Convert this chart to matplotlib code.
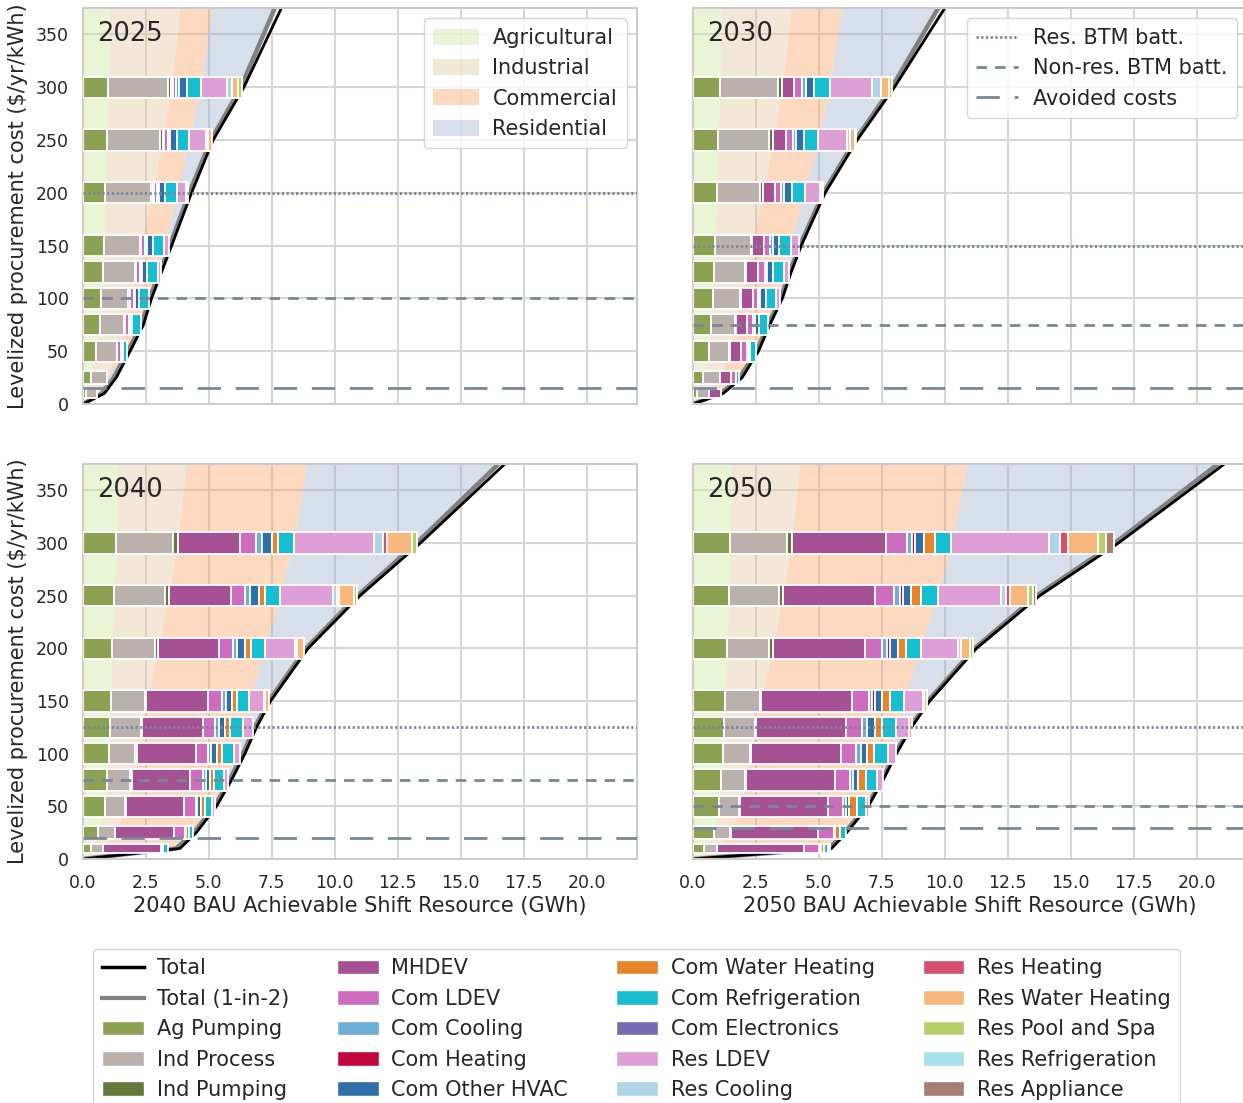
import numpy as np
import matplotlib
matplotlib.use("Agg")
import matplotlib.pyplot as plt
from matplotlib.patches import Patch
from matplotlib.lines import Line2D

# ---------------- data ----------------
categories = ["Ag Pumping", "Ind Process", "Ind Pumping", "MHDEV", "Com LDEV",
              "Com Cooling", "Com Heating", "Com Other HVAC", "Com Water Heating",
              "Com Refrigeration", "Com Electronics", "Res LDEV", "Res Cooling",
              "Res Heating", "Res Water Heating", "Res Pool and Spa",
              "Res Refrigeration", "Res Appliance"]
cat_colors = ["#8ca252", "#bab0ac", "#637939", "#a55194", "#ce6dbd",
              "#6baed6", "#c2073a", "#2f6fa7", "#e6842a",
              "#17becf", "#756bb1", "#de9ed6", "#aed4e8",
              "#d6506e", "#f7b77d", "#b5cf6b",
              "#a6e1ea", "#a87d72"]
sector_names = ["Agricultural", "Industrial", "Commercial", "Residential"]
sector_colors = ["#cae898", "#e3c59d", "#faa05f", "#9dafcd"]

years = ["2025", "2030", "2040", "2050"]
levels = [10, 25, 50, 75, 100, 125, 150, 200, 250, 300]
line_levels = [0, 10, 25, 50, 75, 100, 125, 150, 200, 250, 300, 375]

# segment widths (GWh), one row per price level, in category order
widths_2025 = [
    [0.12, 0.44],
    [0.33, 0.61],
    [0.53, 0.81, 0.02, 0, 0.15, 0.03, 0, 0.06, 0, 0.13],
    [0.66, 0.98, 0.04, 0, 0.15, 0.04, 0, 0.09, 0, 0.33],
    [0.70, 1.09, 0.08, 0, 0.15, 0.06, 0, 0.16, 0, 0.38],
    [0.79, 1.27, 0.04, 0, 0.18, 0.05, 0, 0.22, 0, 0.41, 0, 0.12],
    [0.83, 1.45, 0.03, 0, 0.15, 0.08, 0, 0.24, 0, 0.45, 0, 0.20],
    [0.86, 1.83, 0.09, 0.04, 0.13, 0.08, 0, 0.24, 0, 0.47, 0, 0.37, 0, 0, 0.06],
    [0.95, 2.09, 0.12, 0.04, 0.16, 0.09, 0, 0.28, 0, 0.49, 0, 0.67, 0.06, 0, 0.17],
    [0.99, 2.38, 0.14, 0.05, 0.14, 0.12, 0, 0.31, 0, 0.54, 0, 1.04, 0.20, 0, 0.23, 0.16],
]
widths_2030 = [
    [0.15, 0.50, 0, 0.45],
    [0.41, 0.65, 0, 0.44, 0.20, 0, 0, 0, 0, 0.12],
    [0.62, 0.82, 0.04, 0.41, 0.24, 0.08, 0, 0.07, 0, 0.22],
    [0.70, 0.98, 0.03, 0.42, 0.24, 0.08, 0, 0.16, 0, 0.36],
    [0.78, 1.08, 0.04, 0.48, 0.21, 0.07, 0, 0.25, 0, 0.40, 0, 0.16],
    [0.83, 1.24, 0.04, 0.48, 0.25, 0.09, 0, 0.24, 0, 0.46, 0, 0.19],
    [0.86, 1.46, 0.03, 0.46, 0.25, 0.13, 0, 0.24, 0, 0.45, 0, 0.33],
    [0.94, 1.73, 0.11, 0.48, 0.25, 0.11, 0, 0.32, 0, 0.49, 0, 0.63, 0.04, 0, 0.05],
    [0.98, 2.05, 0.16, 0.49, 0.29, 0.12, 0, 0.32, 0, 0.56, 0, 1.14, 0.13, 0, 0.19, 0.03],
    [1.07, 2.29, 0.19, 0.46, 0.33, 0.15, 0, 0.33, 0, 0.61, 0, 1.69, 0.33, 0, 0.33, 0.11],
]
widths_2040 = [
    [0.33, 0.48, 0, 2.29, 0.09, 0, 0, 0, 0, 0.20],
    [0.61, 0.65, 0.01, 2.33, 0.44, 0.05, 0, 0, 0.12, 0.17],
    [0.87, 0.81, 0.03, 2.30, 0.46, 0.07, 0, 0.13, 0.17, 0.30, 0, 0.11],
    [0.95, 0.93, 0.05, 2.33, 0.49, 0.12, 0, 0.17, 0.16, 0.40, 0, 0.17],
    [1.03, 1.04, 0.07, 2.35, 0.49, 0.11, 0, 0.24, 0.20, 0.46, 0, 0.24],
    [1.07, 1.22, 0.05, 2.42, 0.48, 0.15, 0, 0.24, 0.20, 0.52, 0, 0.40],
    [1.11, 1.36, 0.05, 2.43, 0.56, 0.15, 0, 0.25, 0.21, 0.49, 0, 0.58, 0.03, 0, 0.17],
    [1.14, 1.72, 0.12, 2.43, 0.54, 0.15, 0, 0.34, 0.25, 0.53, 0, 1.19, 0.07, 0, 0.30],
    [1.23, 2.04, 0.13, 2.47, 0.57, 0.20, 0, 0.34, 0.24, 0.60, 0, 2.10, 0.16, 0.09, 0.58, 0.13],
    [1.31, 2.25, 0.20, 2.49, 0.61, 0.24, 0, 0.40, 0.24, 0.62, 0, 3.20, 0.36, 0.17, 0.99, 0.20],
]
widths_2050 = [
    [0.45, 0.49, 0.01, 3.47, 0.58, 0.07, 0, 0, 0.13, 0.16, 0, 0.09],
    [0.82, 0.65, 0.03, 3.48, 0.60, 0.05, 0, 0, 0.20, 0.24],
    [1.03, 0.81, 0.03, 3.48, 0.60, 0.11, 0, 0.15, 0.30, 0.36, 0, 0.12],
    [1.11, 0.97, 0.03, 3.51, 0.62, 0.13, 0, 0.20, 0.29, 0.46, 0, 0.24],
    [1.19, 1.07, 0.04, 3.57, 0.60, 0.19, 0, 0.24, 0.30, 0.53, 0, 0.33],
    [1.23, 1.23, 0.05, 3.56, 0.66, 0.16, 0.03, 0.30, 0.29, 0.54, 0, 0.52, 0.01, 0, 0.11],
    [1.27, 1.39, 0.04, 3.62, 0.66, 0.12, 0.12, 0.30, 0.32, 0.54, 0, 0.75, 0.03, 0, 0.15],
    [1.35, 1.68, 0.15, 3.64, 0.70, 0.17, 0.12, 0.33, 0.33, 0.57, 0, 1.48, 0.13, 0, 0.34, 0.13],
    [1.43, 2.00, 0.13, 3.66, 0.78, 0.21, 0.13, 0.33, 0.37, 0.67, 0, 2.51, 0.21, 0.16, 0.70, 0.20, 0, 0.15],
    [1.47, 2.25, 0.20, 3.73, 0.83, 0.20, 0.15, 0.36, 0.41, 0.66, 0, 3.89, 0.41, 0.32, 1.22, 0.32, 0, 0.30],
]

# total supply curves (x at line_levels)
total_2025 = [0, 0.85, 1.32, 1.87, 2.40, 2.72, 3.12, 3.52, 4.31, 5.17, 6.39, 7.88]
total12_2025 = [0, 0.75, 1.22, 1.78, 2.32, 2.64, 3.05, 3.45, 4.22, 5.08, 6.27, 7.62]
total_2030 = [0, 1.20, 1.95, 2.60, 3.05, 3.55, 3.90, 4.30, 5.25, 6.52, 8.00, 10.00]
total12_2030 = [0, 1.10, 1.85, 2.52, 2.98, 3.48, 3.84, 4.24, 5.18, 6.44, 7.90, 9.74]
total_2040 = [0, 3.85, 4.50, 5.30, 5.90, 6.43, 6.89, 7.45, 8.94, 11.00, 13.40, 16.75]
total12_2040 = [0, 3.70, 4.40, 5.22, 5.82, 6.35, 6.82, 7.38, 8.85, 10.90, 13.25, 16.50]
total_2050 = [0, 5.50, 6.10, 6.96, 7.55, 8.08, 8.68, 9.40, 11.26, 13.77, 16.90, 21.10]
total12_2050 = [0, 5.40, 6.02, 6.90, 7.50, 8.02, 8.62, 9.33, 11.18, 13.65, 16.75, 20.85]

# sector boundaries at top of chart (375 $/yr/kWh): Ag, Ind, Com
area_top_2025 = [1.07, 3.85, 5.10]
area_top_2030 = [1.14, 3.90, 5.90]
area_top_2040 = [1.36, 4.10, 8.90]
area_top_2050 = [1.53, 4.25, 10.90]

res_btm = [200, 150, 125, 125]
nonres_btm = [100, 75, 75, 50]
avoided = [15, 15, 20, 29]

xlabels = ["", "", "2040 BAU Achievable Shift Resource (GWh)",
           "2050 BAU Achievable Shift Resource (GWh)"]

# ---------------- plotting ----------------
plt.rcParams["font.family"] = ["DejaVu Sans"]
TXT = "#262626"
W, H = 1243, 1103
fig = plt.figure(figsize=(W / 100, H / 100), dpi=100)

def fx(px):
    return px / W

def fy(py):
    return 1 - py / H

ax_rects = [
    (fx(83), fy(404), fx(554), (404 - 8) / H),
    (fx(693), fy(404), fx(554), (404 - 8) / H),
    (fx(83), fy(859), fx(554), (859 - 464) / H),
    (fx(693), fy(859), fx(554), (859 - 464) / H),
]

widths_all = [widths_2025, widths_2030, widths_2040, widths_2050]
totals_all = [total_2025, total_2030, total_2040, total_2050]
totals12_all = [total12_2025, total12_2030, total12_2040, total12_2050]
tops_all = [area_top_2025, area_top_2030, area_top_2040, area_top_2050]
sector_last = [0, 2, 10]  # last category index for Ag, Ind, Com

lvl = np.array(levels, dtype=float)
gaps_low = np.diff(np.concatenate([[0.0], lvl]))
gaps_high = np.concatenate([np.diff(lvl), [50.0]])
bar_h = 0.8 * np.minimum(np.minimum(gaps_low, gaps_high), 25.0)

line_col = "#778899"
ls_dot = (0, (0.8, 0.9))
ls_dash = (0, (3.8, 2.9))
ls_long = (0, (8.4, 5.3))

axes = []
for i, yr in enumerate(years):
    ax = fig.add_axes(ax_rects[i])
    axes.append(ax)
    ax.set_facecolor("white")
    ax.set_xlim(0, 22)
    ax.set_ylim(0, 375)
    ax.grid(True, color="#d6d6d6", lw=1.5, zorder=0)
    ax.set_axisbelow(True)
    for s in ax.spines.values():
        s.set_color("#cccccc")
        s.set_linewidth(1.5)
    ax.set_xticks([0, 2.5, 5, 7.5, 10, 12.5, 15, 17.5, 20])
    ax.set_yticks(range(0, 351, 50))
    ax.tick_params(axis="y", length=0, labelsize=12.5, labelcolor=TXT, pad=10)
    ax.tick_params(axis="x", length=0, labelsize=12.5, labelcolor=TXT, pad=11)

    rows = widths_all[i]
    full = np.zeros((len(rows), len(categories)))
    for r, row in enumerate(rows):
        full[r, :len(row)] = row
    cum = np.cumsum(full, axis=1)
    tops = tops_all[i]
    bounds = []
    for k, last in enumerate(sector_last):
        bounds.append(np.concatenate([[0.0], cum[:, last], [tops[k]]]))
    bounds.append(np.array(totals12_all[i], dtype=float))
    ly = np.array(line_levels, dtype=float)
    prev = np.zeros_like(ly)
    for k in range(4):
        ax.fill_betweenx(ly, prev, bounds[k], color=sector_colors[k], alpha=0.4,
                         lw=0, zorder=1)
        prev = bounds[k]

    ax.plot(totals12_all[i], line_levels, color="#808080", lw=3.2, zorder=2.4,
            solid_capstyle="butt")
    ax.plot(totals_all[i], line_levels, color="black", lw=2.0, zorder=2.5)

    for r, y in enumerate(levels):
        left = 0.0
        for c, w in enumerate(rows[r]):
            if w > 0:
                ax.barh(y, w, left=left, height=bar_h[r], color=cat_colors[c],
                        edgecolor="white", linewidth=1.3, zorder=3)
            left += w

    ax.axhline(res_btm[i], color=line_col, lw=2.0, ls=ls_dot, zorder=4)
    ax.axhline(nonres_btm[i], color=line_col, lw=2.0, ls=ls_dash, zorder=4)
    ax.axhline(avoided[i], color=line_col, lw=2.0, ls=ls_long, zorder=4)

    ax.text(0.025, 0.968, yr, transform=ax.transAxes, ha="left", va="top",
            fontsize=18.5, color=TXT, zorder=6)

    if i in (0, 2):
        ax.set_ylabel("Levelized procurement cost ($/yr/kWh)", fontsize=15,
                      color=TXT, labelpad=6)
    else:
        ax.set_yticklabels([])
    if i in (2, 3):
        ax.set_xticklabels(["0.0", "2.5", "5.0", "7.5", "10.0", "12.5", "15.0",
                            "17.5", "20.0"])
        ax.set_xlabel(xlabels[i], fontsize=15, color=TXT, labelpad=3)
    else:
        ax.set_xticklabels([])

# sector legend (top-left)
sec_handles = [Patch(facecolor=sector_colors[k], alpha=0.4, edgecolor="none")
               for k in range(4)]
leg1 = axes[0].legend(sec_handles, sector_names, loc="upper right", fontsize=15,
                      frameon=True, handlelength=2.2, handleheight=0.8,
                      labelspacing=0.5, borderpad=0.45, handletextpad=0.65,
                      borderaxespad=0.5)
leg1.get_frame().set_edgecolor("#cccccc")
leg1.set_zorder(10)
for t in leg1.get_texts():
    t.set_color(TXT)

# battery-cost legend (top-right)
bat_handles = [Line2D([], [], color=line_col, lw=2.0, ls=ls_dot),
               Line2D([], [], color=line_col, lw=2.0, ls=ls_dash),
               Line2D([], [], color=line_col, lw=2.0, ls=ls_long)]
leg2 = axes[1].legend(bat_handles, ["Res. BTM batt.", "Non-res. BTM batt.",
                                    "Avoided costs"],
                      loc="upper right", fontsize=15, frameon=True,
                      handlelength=2.0, labelspacing=0.5, borderpad=0.45,
                      handletextpad=0.7, borderaxespad=0.5)
leg2.get_frame().set_edgecolor("#cccccc")
leg2.set_zorder(10)
for t in leg2.get_texts():
    t.set_color(TXT)

# bottom category legend
handles = [Line2D([], [], color="black", lw=2.5),
           Line2D([], [], color="#808080", lw=3.0)]
labels = ["Total", "Total (1-in-2)"]
for c, name in enumerate(categories):
    handles.append(Patch(facecolor=cat_colors[c], edgecolor="white"))
    labels.append(name)
leg3 = fig.legend(handles, labels, loc="upper center", ncol=4, fontsize=15,
                  bbox_to_anchor=(fx(636.5), fy(949)), borderaxespad=0,
                  frameon=True, handlelength=2.0, labelspacing=0.5,
                  columnspacing=2.3, handletextpad=0.62, borderpad=0.45)
leg3.get_frame().set_edgecolor("#cccccc")
for t in leg3.get_texts():
    t.set_color(TXT)

fig.savefig("out.png", dpi=100)
